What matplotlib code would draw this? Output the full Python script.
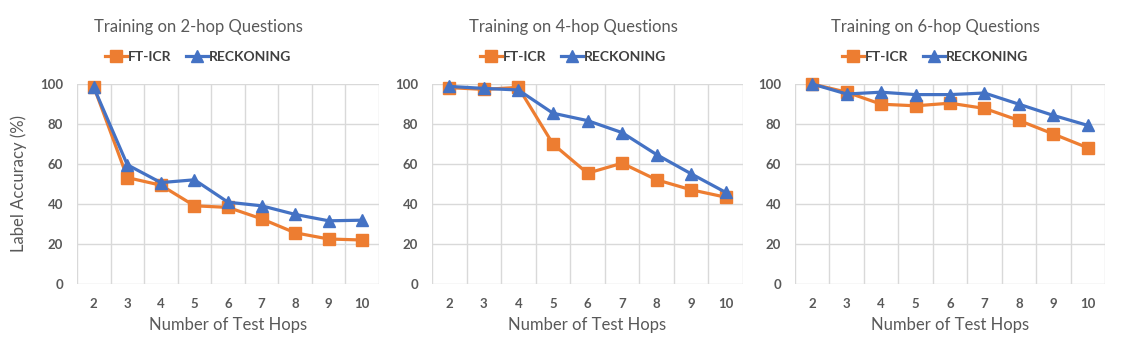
import matplotlib
matplotlib.use("Agg")
import matplotlib.pyplot as plt
from matplotlib.lines import Line2D

plt.rcParams['font.family'] = ['Lato', 'DejaVu Sans']

hops = [2, 3, 4, 5, 6, 7, 8, 9, 10]
hop_labels = [str(h) for h in hops]

titles = ["Training on 2-hop Questions", "Training on 4-hop Questions", "Training on 6-hop Questions"]

ft_icr_2 = [98.7, 53.2, 49.4, 39.1, 38.3, 32.6, 25.6, 22.5, 22.0]
reck_2 = [98.3, 59.6, 50.7, 52.1, 40.9, 39.1, 34.8, 31.6, 31.9]

ft_icr_4 = [98.2, 97.3, 98.3, 70.0, 55.4, 60.4, 52.1, 47.1, 43.4]
reck_4 = [98.8, 97.8, 97.0, 85.4, 81.7, 75.7, 64.7, 55.1, 45.8]

ft_icr_6 = [100.0, 95.9, 89.9, 89.1, 90.4, 87.8, 81.8, 75.0, 68.1]
reck_6 = [100.0, 95.0, 95.9, 94.7, 94.7, 95.5, 89.9, 84.3, 79.3]

series_names = ["FT-ICR", "RECKONING"]
ft_all = [ft_icr_2, ft_icr_4, ft_icr_6]
rk_all = [reck_2, reck_4, reck_6]

ORANGE = "#ED7D31"
BLUE = "#4472C4"
GRID = "#D9D9D9"
TXT = "#595959"

W, H = 1126, 351
fig = plt.figure(figsize=(W / 100, H / 100), dpi=100)

# pixel layout: (left, right) of plot areas
areas = [(77, 379), (432, 743), (795, 1105)]
top_px, bot_px = 84, 284
title_cx = [198, 573, 935]

for i, (l, r) in enumerate(areas):
    ax = fig.add_axes([l / W, 1 - bot_px / H, (r - l) / W, (bot_px - top_px) / H])
    x = list(range(len(hops)))
    ax.set_xlim(-0.5, len(hops) - 0.5)
    ax.set_ylim(0, 100)
    for k in range(len(hops) + 1):
        ax.axvline(k - 0.5, color=GRID, lw=1, zorder=0)
    for yv in range(0, 101, 20):
        ax.axhline(yv, color=GRID, lw=1, zorder=0)
    for s in ax.spines.values():
        s.set_visible(False)
    ax.plot(x, ft_all[i], color=ORANGE, lw=2.3, marker='s', ms=8.5, zorder=3, clip_on=False)
    ax.plot(x, rk_all[i], color=BLUE, lw=2.3, marker='^', ms=8.5, zorder=4, clip_on=False)
    ax.set_xticks(x)
    ax.set_xticklabels(hop_labels)
    ax.set_yticks(range(0, 101, 20))
    ax.tick_params(length=0, labelsize=9.5, labelcolor=TXT, pad=10)
    for t in ax.get_xticklabels() + ax.get_yticklabels():
        t.set_fontweight('bold')
    ax.set_xlabel("Number of Test Hops", fontsize=12, color=TXT, labelpad=5)
    if i == 0:
        ax.set_ylabel("Label Accuracy (%)", fontsize=12, color=TXT)
        ax.yaxis.set_label_coords((27 - l) / (r - l), 0.5)
    fig.text(title_cx[i] / W, 1 - 27 / H, titles[i], ha='center', va='center',
             fontsize=12, color=TXT)
    handles = [Line2D([], [], color=ORANGE, lw=2.3, marker='s', ms=8.5),
               Line2D([], [], color=BLUE, lw=2.3, marker='^', ms=8.5)]
    leg = fig.legend(handles, series_names, loc='center', ncol=2,
                     bbox_to_anchor=(title_cx[i] / W, 1 - 57 / H), frameon=False,
                     handlelength=1.6, handletextpad=0.1, columnspacing=1.0,
                     prop={'weight': 'bold', 'size': 10})
    for t in leg.get_texts():
        t.set_color("#404040")

fig.savefig("out.png", dpi=100)
